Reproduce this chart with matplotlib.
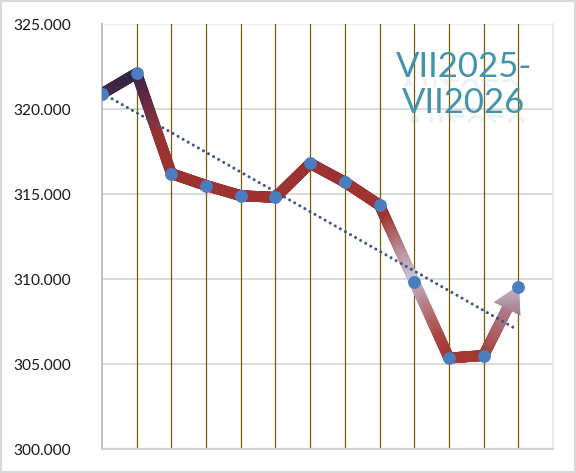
import numpy as np
import matplotlib
matplotlib.use("Agg")
import matplotlib.pyplot as plt
from matplotlib.collections import LineCollection
from matplotlib.patches import Polygon, Rectangle, PathPatch
from matplotlib.textpath import TextPath
from matplotlib.font_manager import FontProperties
from matplotlib.transforms import Affine2D, IdentityTransform

# ---- data ----
months = ["VII", "VIII", "IX", "X", "XI", "XII", "I", "II", "III", "IV", "V", "VI", "VII"]
values = [320900, 322100, 316200, 315500, 314900, 314800, 316800, 315700,
          314350, 309850, 305350, 305500, 309550]
y_ticks = [300000, 305000, 310000, 315000, 320000, 325000]
title_lines = ["VII2025-", "VII2026"]

W, H, DPI = 576, 473, 100
fig = plt.figure(figsize=(W / DPI, H / DPI), dpi=DPI)
ax = fig.add_axes([102 / W, 24 / H, (553 - 102) / W, (449 - 24) / H])

x = np.arange(len(values))
ax.set_xlim(0, len(values))
ax.set_ylim(y_ticks[0], y_ticks[-1])

# gridlines / spines
ax.set_yticks(y_ticks)
ax.set_yticklabels([f"{v:,}".replace(",", ".") for v in y_ticks],
                   fontfamily="Lato", fontsize=11.2, color="#1A1A1A")
ax.tick_params(axis="y", length=0, pad=22)
ax.set_xticks([])
for v in y_ticks[1:-1]:
    ax.axhline(v, color="#D9D9D9", lw=1.4, zorder=1)
ax.axhline(y_ticks[-1], color="#EEEEEE", lw=1.0, zorder=1)
for xi in x[1:]:
    ax.axvline(xi, color="#7A5C08", lw=0.9, zorder=1)
ax.spines["left"].set_color("#BFBFBF")
ax.spines["left"].set_linewidth(1.4)
ax.spines["bottom"].set_color("#D0D0D0")
ax.spines["bottom"].set_linewidth(1.6)
ax.spines["right"].set_color("#E3E7EE")
ax.spines["right"].set_linewidth(1.2)
ax.spines["top"].set_visible(False)

# ---- gradient colour by value ----
stops_v = np.array([305000, 306500, 308500, 310000, 311500, 313500, 318500, 320500, 322200])
stops_c = np.array([
    (160, 50, 45), (172, 72, 68), (185, 135, 145), (198, 192, 212),
    (185, 140, 150), (160, 50, 48), (150, 50, 50), (95, 40, 70), (42, 36, 70)
]) / 255.0

def col(v):
    return np.array([np.interp(v, stops_v, stops_c[:, k]) for k in range(3)]).T

LW = 7.9
segs, cols = [], []
n = 60
for i in range(len(values) - 2):
    xs = np.linspace(x[i], x[i + 1], n + 1)
    ys = np.linspace(values[i], values[i + 1], n + 1)
    mid = (ys[:-1] + ys[1:]) / 2
    for k in range(n):
        segs.append([(xs[k], ys[k]), (xs[k + 1], ys[k + 1])])
    cols.extend(col(mid))

# arrow for last segment (computed in pixels)
fig.canvas.draw()
T = ax.transData
p11 = T.transform((x[-2], values[-2]))
p12 = T.transform((x[-1], values[-1]))
u = (p12 - p11) / np.linalg.norm(p12 - p11)
nrm = np.array([u[1], -u[0]])
tip = p12 + 2 * u
L, hw = 27, 15
base = tip - L * u
inv = T.inverted()
b_data = inv.transform(base)
xs = np.linspace(x[-2], b_data[0] + 0.02, n + 1)
ys = np.linspace(values[-2], b_data[1] + 0.02 * (values[-1] - values[-2]), n + 1)
mid = (ys[:-1] + ys[1:]) / 2
for k in range(n):
    segs.append([(xs[k], ys[k]), (xs[k + 1], ys[k + 1])])
shaft_stops_v = np.array([305500, 307000, 308500])
shaft_stops_c = np.array([(160, 50, 45), (175, 95, 100), (170, 125, 140)]) / 255.0
cols.extend(np.array([np.interp(mid, shaft_stops_v, shaft_stops_c[:, k]) for k in range(3)]).T)

lc = LineCollection(segs, colors=cols, linewidths=LW, capstyle="round", zorder=3)
ax.add_collection(lc)

head_px = np.array([tip, base + hw * nrm, base - hw * nrm])
head_data = inv.transform(head_px)
head = Polygon(head_data, closed=True, facecolor="none", edgecolor="none", zorder=3)
ax.add_patch(head)
x0, x1 = head_data[:, 0].min(), head_data[:, 0].max()
y0, y1 = head_data[:, 1].min(), head_data[:, 1].max()
grad = np.linspace(0, 1, 64)[:, None]
c_lo = np.array([165, 120, 135]) / 255.0
c_hi = np.array([196, 186, 200]) / 255.0
img = c_lo[None, None, :] * (1 - grad[..., None]) + c_hi[None, None, :] * grad[..., None]
img = np.repeat(img, 4, axis=1)
im = ax.imshow(img, extent=[x0, x1, y0, y1], origin="lower", aspect="auto",
               zorder=3, interpolation="bilinear")
im.set_clip_path(head)
ax.set_xlim(0, len(values))
ax.set_ylim(y_ticks[0], y_ticks[-1])

# trend line (linear fit of the series)
m, b = np.polyfit(x, values, 1)
xt = np.array([0, x[-1] - 0.1])
ax.plot(xt, m * xt + b, color="#3C5583", lw=2.2, linestyle=(0, (0.01, 1.9)),
        dash_capstyle="round", zorder=4)

# markers
ax.plot(x, values, linestyle="none", marker="o", markersize=8.2,
        markerfacecolor="#4A7EC0", markeredgecolor="#4A7EC0", zorder=5)

# title text with a faint reflection
fsize = 25
fp = FontProperties(family="Lato", size=fsize)
cx = 464
for line, base_y in zip(title_lines, [77, 113]):
    fig.text(cx / W, 1 - base_y / H, line, fontproperties=fp,
             color="#4393AC", ha="center", va="baseline", zorder=6)
    tp = TextPath((0, 0), line, size=fsize * DPI / 72, prop=fp)
    ext = tp.get_extents()
    wpx = ext.x1 - ext.x0
    tr = Affine2D().scale(1, -1).translate(cx - wpx / 2 - ext.x0, H - base_y - 2)
    rp = PathPatch(tr.transform_path(tp), facecolor="#8CC6D8", edgecolor="none",
                   alpha=0.2, transform=IdentityTransform(), zorder=5)
    clip = Rectangle((cx - 80, H - base_y - 10), 160, 9, transform=IdentityTransform())
    fig.patches.append(rp)
    rp.set_clip_path(clip)

# chart border
fig.patches.append(Rectangle((0.002, 0.002), 0.996, 0.996, transform=fig.transFigure,
                             fill=False, edgecolor="#D9D9D9", lw=1.5))

fig.savefig("out.png", dpi=DPI)
